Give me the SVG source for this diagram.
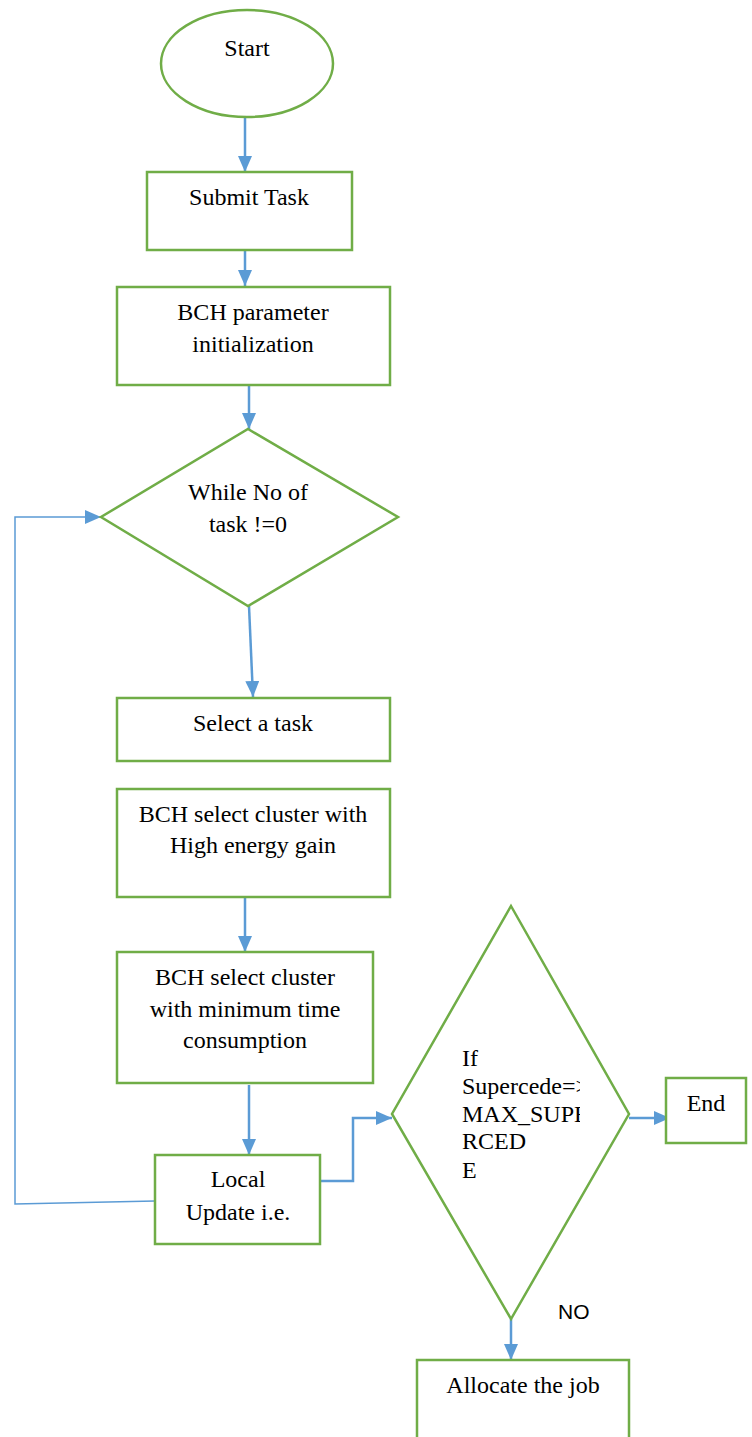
<svg xmlns="http://www.w3.org/2000/svg" width="752" height="1437" viewBox="0 0 752 1437">
<style>
.node{fill:#ffffff;stroke:#70AD47;stroke-width:2.5}
.t{font-family:'Liberation Serif',Tinos,'Times New Roman',Times,serif;font-size:24px;fill:#000000;text-anchor:middle}
.tl{font-family:'Liberation Serif',Tinos,'Times New Roman',Times,serif;font-size:24px;fill:#000000}
.c{fill:none;stroke:#5B9BD5;stroke-width:2.5}
.thin{fill:none;stroke:#5B9BD5;stroke-width:1.5}
.lbl{font-family:'Liberation Sans',Arial,sans-serif;font-size:21px;fill:#000000}
</style>
<defs>
<marker id="arr" viewBox="0 0 16 14" refX="16" refY="7" markerWidth="16" markerHeight="14" markerUnits="userSpaceOnUse" orient="auto">
<path d="M0,0 L16,7 L0,14 z" fill="#5B9BD5"/>
</marker>
<clipPath id="clipD"><rect x="440" y="1040" width="140" height="160"/></clipPath>
</defs>
<rect width="752" height="1437" fill="#ffffff"/>
<g id="connectors">
<path class="c" d="M245,117 V172" marker-end="url(#arr)"/>
<path class="c" d="M245,250 V286" marker-end="url(#arr)"/>
<path class="c" d="M249,377 V429" marker-end="url(#arr)"/>
<path class="c" d="M249,606 L253,697" marker-end="url(#arr)"/>
<path class="c" d="M245,897 V952" marker-end="url(#arr)"/>
<path class="c" d="M249,1085 V1155" marker-end="url(#arr)"/>
<path class="c" d="M317,1181 H353 V1118 H392" marker-end="url(#arr)"/>
<path class="c" d="M629,1118 H670" marker-end="url(#arr)"/>
<path class="c" d="M511,1319 V1360" marker-end="url(#arr)"/>
<path class="thin" d="M155,1201 L15,1204 V517 H101" marker-end="url(#arr)"/>
</g>
<g id="start">
<ellipse class="node" cx="247" cy="63.5" rx="86" ry="53.5"/>
<text class="t" x="247" y="56">Start</text>
</g>
<g id="submit">
<rect class="node" x="147" y="172" width="205" height="78"/>
<text class="t" x="249" y="205">Submit Task</text>
</g>
<g id="init">
<rect class="node" x="117" y="287" width="273" height="98"/>
<text class="t" x="253" y="320">BCH parameter</text>
<text class="t" x="253" y="352">initialization</text>
</g>
<g id="while">
<polygon class="node" points="248,429 398,517 248,606 101,517"/>
<text class="t" x="248" y="500">While No of</text>
<text class="t" x="248" y="532">task !=0</text>
</g>
<g id="select">
<rect class="node" x="117" y="698" width="273" height="63"/>
<text class="t" x="253" y="731">Select a task</text>
</g>
<g id="energy">
<rect class="node" x="117" y="789" width="273" height="108"/>
<text class="t" x="253" y="822">BCH select cluster with</text>
<text class="t" x="253" y="853">High energy gain</text>
</g>
<g id="time">
<rect class="node" x="117" y="952" width="256" height="131"/>
<text class="t" x="245" y="985">BCH select cluster</text>
<text class="t" x="245" y="1017">with minimum time</text>
<text class="t" x="245" y="1048">consumption</text>
</g>
<g id="local">
<rect class="node" x="155" y="1155" width="165" height="89"/>
<text class="t" x="238" y="1187">Local</text>
<text class="t" x="238" y="1220">Update i.e.</text>
</g>
<g id="decision">
<polygon class="node" points="511,906 629,1114 511,1319 392,1114"/>
<g clip-path="url(#clipD)">
<text class="tl" x="462" y="1066">If</text>
<text class="tl" x="462" y="1094">Supercede=&gt;</text>
<text class="tl" x="462" y="1122">MAX_SUPE</text>
<text class="tl" x="462" y="1149">RCED</text>
<text class="tl" x="462" y="1178">E</text>
</g>
</g>
<g id="end">
<rect class="node" x="666" y="1078" width="80" height="65"/>
<text class="t" x="706" y="1111">End</text>
</g>
<g id="no-label">
<text class="lbl" x="558" y="1319">NO</text>
</g>
<g id="allocate">
<rect class="node" x="417" y="1360" width="212" height="90"/>
<text class="t" x="523" y="1393">Allocate the job</text>
</g>
</svg>
